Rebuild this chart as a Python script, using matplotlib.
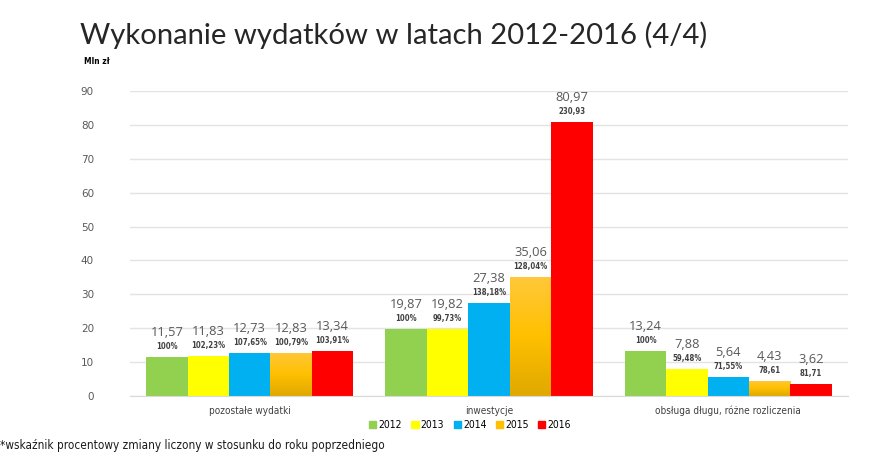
import numpy as np
import matplotlib
matplotlib.use("Agg")
import matplotlib.pyplot as plt
from matplotlib.colors import LinearSegmentedColormap
from matplotlib.patches import Patch

categories = ["pozostałe wydatki", "inwestycje", "obsługa długu, różne rozliczenia"]
years = ["2012", "2013", "2014", "2015", "2016"]
values = {
    "2012": [11.57, 19.87, 13.24],
    "2013": [11.83, 19.82, 7.88],
    "2014": [12.73, 27.38, 5.64],
    "2015": [12.83, 35.06, 4.43],
    "2016": [13.34, 80.97, 3.62],
}
pct_labels = {
    "2012": ["100%", "100%", "100%"],
    "2013": ["102,23%", "99,73%", "59,48%"],
    "2014": ["107,65%", "138,18%", "71,55%"],
    "2015": ["100,79%", "128,04%", "78,61"],
    "2016": ["103,91%", "230,93", "81,71"],
}
colors = ["#92D050", "#FFFF00", "#00B0F0", "#FFC000", "#FF0000"]

fig = plt.figure(figsize=[8.75, 4.69], dpi=100)
ax = fig.add_axes([130 / 875, 1 - 396 / 469, 718 / 875, 305 / 469])

gray = "#595959"

x = np.arange(len(categories))
w = 0.173
grad = LinearSegmentedColormap.from_list("g15", ["#E0A800", "#FFC000", "#FFC83A"])

for i, year in enumerate(years):
    pos = x + (i - 2) * w
    vals = values[year]
    bars = ax.bar(pos, vals, width=w, color=colors[i], label=year, zorder=2)
    if year == "2015":
        # gradient fill like in the original
        for b in bars:
            b.set_facecolor("none")
            x0 = b.get_x()
            img = ax.imshow(np.linspace(0, 1, 100).reshape(-1, 1), cmap=grad,
                            extent=[x0, x0 + b.get_width(), 0, b.get_height()],
                            origin="lower", aspect="auto", zorder=2)
            img.set_clip_path(b)
    for p, v, lab in zip(pos, vals, pct_labels[year]):
        ax.annotate(lab, (p, v), xytext=(0, 7.5), textcoords="offset points",
                    ha="center", va="center", fontsize=5.6, fontweight="bold",
                    color="#404040", fontstretch="condensed")
        ax.annotate(f"{v:.2f}".replace(".", ","), (p, v), xytext=(0, 17.5),
                    textcoords="offset points", ha="center", va="center",
                    fontsize=9.3, color=gray, family=["Open Sans", "DejaVu Sans"])

ax.set_xlim(-0.5, 2.5)
ax.set_ylim(0, 90)
ax.set_yticks(range(0, 91, 10))
ax.set_xticks(x)
ax.set_xticklabels(categories, fontsize=7.2, color="#404040", fontstretch="condensed")
ax.tick_params(axis="y", length=0, labelsize=7.5, labelcolor=gray, pad=26)
ax.tick_params(axis="x", length=0, pad=7)
ax.grid(axis="y", color="#E3E3E3", linewidth=1, zorder=0)
for s in ["top", "right", "left"]:
    ax.spines[s].set_visible(False)
ax.spines["bottom"].set_color("#D9D9D9")

handles = [Patch(color=c) for c in colors]
fig.legend(handles, years, loc="center", bbox_to_anchor=(470 / 875, 1 - 425 / 469),
           ncol=5, frameon=False, handlelength=0.7, handleheight=0.7,
           handletextpad=0.2, columnspacing=0.9,
           prop={"size": 7.5, "stretch": "condensed"})

fig.text(80 / 875, 1 - 35 / 469, "Wykonanie wydatków w latach 2012-2016 (4/4)",
         fontsize=21.1, color="#262626", ha="left", va="center",
         family=["Lato", "DejaVu Sans"])
fig.text(97 / 875, 1 - 62 / 469, "Mln zł", fontsize=6, fontweight="bold",
         ha="center", va="center", fontstretch="condensed")
fig.text(0, 1 - 445 / 469, "*wskaźnik procentowy zmiany liczony w stosunku do roku poprzedniego",
         fontsize=8.5, ha="left", va="center", color="#1A1A1A", fontstretch="condensed")

fig.savefig("out.png", dpi=100)
